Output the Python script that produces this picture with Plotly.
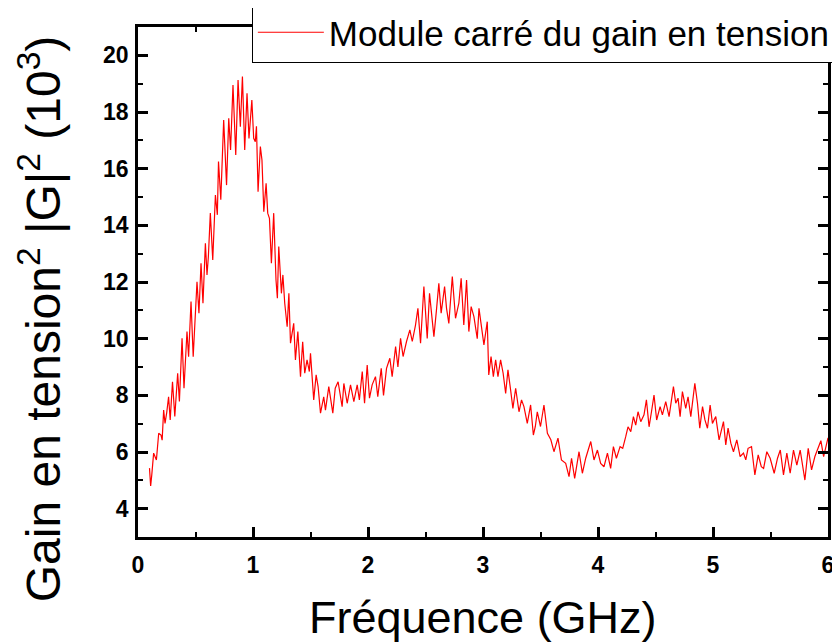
import plotly.graph_objects as go

freq_ghz = [
    0.100, 0.110, 0.120, 0.136, 0.160, 0.180, 0.200, 0.210, 0.223, 0.235,
    0.250, 0.266, 0.280, 0.300, 0.320, 0.345, 0.360, 0.383, 0.400, 0.426,
    0.440, 0.461, 0.480, 0.513, 0.530, 0.548, 0.565, 0.586, 0.600, 0.612,
    0.629, 0.650, 0.673, 0.690, 0.700, 0.720, 0.745, 0.770, 0.789, 0.805,
    0.826, 0.850, 0.870, 0.890, 0.908, 0.928, 0.948, 0.965, 0.990, 1.006,
    1.020, 1.030, 1.044, 1.064, 1.078, 1.094, 1.114, 1.128, 1.143, 1.160,
    1.180, 1.200, 1.212, 1.224, 1.247, 1.260, 1.276, 1.297, 1.312, 1.326,
    1.354, 1.369, 1.390, 1.413, 1.432, 1.450, 1.470, 1.490, 1.500, 1.528,
    1.549, 1.566, 1.587, 1.615, 1.630, 1.659, 1.694, 1.715, 1.740, 1.775,
    1.790, 1.819, 1.848, 1.877, 1.906, 1.925, 1.950, 1.970, 1.993, 2.013,
    2.036, 2.065, 2.085, 2.115, 2.135, 2.161, 2.190, 2.210, 2.240, 2.260,
    2.283, 2.305, 2.335, 2.364, 2.385, 2.413, 2.434, 2.457, 2.486, 2.500,
    2.515, 2.535, 2.558, 2.573, 2.595, 2.616, 2.636, 2.666, 2.683, 2.703,
    2.733, 2.761, 2.790, 2.810, 2.833, 2.857, 2.877, 2.897, 2.921, 2.950,
    2.965, 2.985, 3.008, 3.037, 3.050, 3.070, 3.090, 3.110, 3.130, 3.153,
    3.175, 3.197, 3.217, 3.240, 3.260, 3.284, 3.313, 3.335, 3.356, 3.385,
    3.414, 3.438, 3.455, 3.472, 3.500, 3.530, 3.560, 3.590, 3.617, 3.652,
    3.682, 3.719, 3.748, 3.770, 3.797, 3.835, 3.864, 3.893, 3.937, 3.965,
    3.995, 4.023, 4.052, 4.082, 4.110, 4.134, 4.160, 4.192, 4.215, 4.241,
    4.261, 4.285, 4.308, 4.328, 4.348, 4.372, 4.400, 4.421, 4.444, 4.465,
    4.487, 4.510, 4.540, 4.560, 4.589, 4.618, 4.656, 4.676, 4.696, 4.714,
    4.734, 4.763, 4.783, 4.807, 4.842, 4.865, 4.885, 4.909, 4.930, 4.952,
    4.975, 4.995, 5.024, 5.053, 5.070, 5.091, 5.111, 5.131, 5.155, 5.178,
    5.207, 5.236, 5.265, 5.285, 5.305, 5.335, 5.364, 5.393, 5.420, 5.440,
    5.468, 5.497, 5.532, 5.561, 5.585, 5.613, 5.642, 5.671, 5.700, 5.729,
    5.758, 5.787, 5.799, 5.828, 5.857, 5.886, 5.910, 5.938, 5.962, 5.990,
    6.000,
]

gain_sq_1e3 = [
    5.43, 4.80, 5.20, 5.96, 5.72, 6.66, 6.60, 6.42, 7.48, 7.01,
    7.40, 7.95, 7.13, 8.48, 7.25, 8.78, 7.78, 10.01, 8.25, 10.25,
    9.36, 11.31, 9.36, 12.01, 10.90, 12.66, 11.25, 13.37, 12.25, 12.90,
    14.43, 12.78, 15.07, 14.37, 16.25, 14.90, 17.72, 15.42, 17.78, 16.66,
    18.95, 16.48, 19.13, 17.48, 19.25, 16.66, 18.66, 17.07, 18.42, 17.07,
    16.95, 17.50, 15.19, 16.78, 16.30, 14.48, 15.48, 14.43, 14.25, 12.66,
    14.43, 12.07, 11.43, 13.25, 11.60, 12.25, 11.25, 10.42, 11.60, 9.84,
    10.54, 9.25, 10.25, 8.66, 9.89, 8.78, 9.25, 8.84, 9.48, 7.84,
    8.72, 8.31, 7.37, 7.95, 7.48, 8.31, 7.37, 8.25, 8.48, 7.60,
    8.42, 7.72, 8.37, 7.78, 8.37, 7.84, 8.84, 7.72, 9.07, 7.90,
    8.37, 8.66, 7.95, 8.95, 8.00, 8.95, 9.31, 8.66, 9.72, 9.00,
    10.01, 9.37, 9.90, 10.31, 9.90, 10.48, 11.07, 9.84, 11.84, 10.78,
    10.01, 11.60, 10.72, 10.07, 11.00, 11.95, 10.90, 11.84, 11.07, 10.54,
    12.19, 10.72, 11.25, 12.13, 10.48, 12.07, 10.25, 11.13, 10.78, 10.00,
    11.07, 10.42, 9.78, 10.60, 8.72, 9.37, 8.66, 9.25, 8.66, 9.25,
    8.78, 8.07, 8.90, 8.19, 7.54, 8.25, 7.42, 7.84, 7.60, 7.01,
    7.66, 6.60, 6.90, 7.42, 6.90, 7.66, 6.66, 6.43, 6.01, 6.49,
    5.72, 5.60, 5.13, 5.78, 5.07, 6.01, 5.25, 5.78, 6.37, 5.72,
    6.07, 5.60, 5.48, 5.96, 5.42, 6.19, 5.78, 6.19, 6.13, 6.54,
    6.89, 6.72, 7.25, 6.95, 7.42, 7.07, 7.31, 7.84, 6.89, 7.42,
    8.01, 7.13, 7.60, 7.31, 7.78, 7.25, 8.31, 7.72, 7.90, 7.25,
    8.13, 7.54, 7.95, 7.25, 8.42, 7.72, 6.84, 7.60, 7.13, 6.84,
    7.66, 7.01, 7.25, 6.43, 6.72, 7.07, 6.25, 6.84, 6.31, 6.01,
    6.43, 5.84, 5.96, 5.72, 6.13, 6.19, 5.19, 5.90, 5.48, 5.42,
    6.01, 5.78, 5.25, 5.78, 6.07, 5.19, 5.96, 5.25, 6.07, 5.54,
    6.07, 5.42, 5.01, 6.13, 5.37, 5.84, 6.07, 6.40, 5.84, 6.37,
    6.50,
]

series_name = "Module carré du gain en tension"
x_title = "Fréquence (GHz)"
y_title = "Gain en tension<sup>2</sup> |G|<sup>2</sup> (10<sup>3</sup>)"
x_ticks = [0, 1, 2, 3, 4, 5, 6]
y_ticks = [4, 6, 8, 10, 12, 14, 16, 18, 20]

FONT = "Liberation Sans, Arial, sans-serif"

fig = go.Figure()
fig.add_trace(go.Scatter(
    x=freq_ghz, y=gain_sq_1e3, mode="lines", name=series_name,
    line=dict(color="#ff0000", width=1.2),
))

axis_common = dict(
    showgrid=False, zeroline=False, showline=True, linecolor="black",
    linewidth=2.5, mirror="ticks", ticks="inside", tickcolor="black",
    tickwidth=2.5, ticklen=10,
    tickfont=dict(family=FONT, size=23, color="black", weight="bold"),
)

fig.update_xaxes(
    range=[0, 6], tickvals=x_ticks, ticktext=[str(v) for v in x_ticks],
    minor=dict(dtick=0.5, tick0=0, ticks="inside", ticklen=5, tickwidth=2, tickcolor="black"),
    ticklabelstandoff=6, **axis_common,
)
fig.update_yaxes(
    range=[3, 21], tickvals=y_ticks, ticktext=[str(v) for v in y_ticks],
    minor=dict(dtick=1, tick0=0, ticks="inside", ticklen=5, tickwidth=2, tickcolor="black"),
    ticklabelstandoff=2, **axis_common,
)

fig.add_annotation(
    text=x_title, xref="paper", yref="paper", x=0.5, y=-0.157,
    xanchor="center", yanchor="middle", showarrow=False,
    font=dict(family=FONT, size=45, color="black"),
)
fig.add_annotation(
    text=y_title, xref="paper", yref="paper", x=-0.142, y=0.427,
    xanchor="center", yanchor="middle", showarrow=False, textangle=-90,
    font=dict(family=FONT, size=48, color="black"),
)

# page body has an 8px default margin: plot area spans x 138..828, y 27..537 on screen
fig.update_layout(
    width=840, height=644,
    margin=dict(l=130, r=20, t=19, b=115, autoexpand=False),
    paper_bgcolor="white", plot_bgcolor="white",
    showlegend=True,
    legend=dict(
        x=0.165, y=1.049, xanchor="left", yanchor="top",
        bgcolor="white", bordercolor="black", borderwidth=1,
        font=dict(family=FONT, size=35, color="black"),
        itemwidth=66,
    ),
)

fig.write_html("out.html")
